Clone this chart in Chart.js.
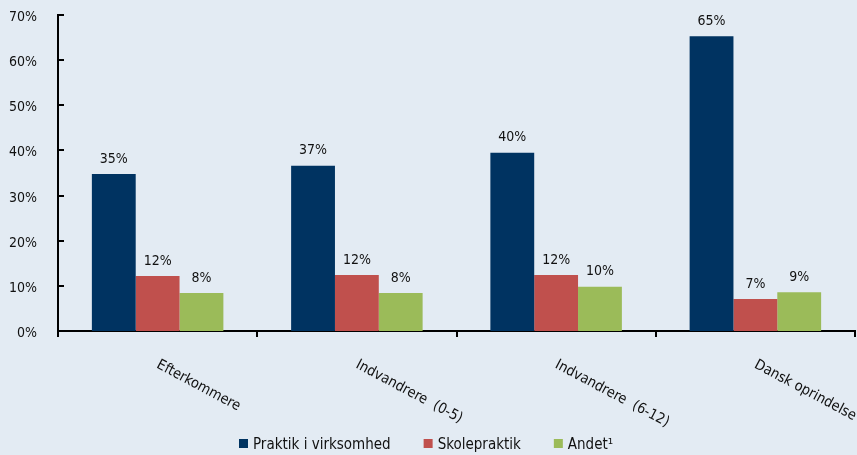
<!DOCTYPE html>
<html lang="da">
<head>
  <meta charset="UTF-8">
  <title>Praktik fordelt på herkomst</title>
  <style>
    body {
      margin: 0;
      background-color: #e3ebf3;
    }
    #wrap {
      width: 857px;
      height: 455px;
    }
  </style>
  <script src="https://cdn.jsdelivr.net/npm/chart.js"></script>
</head>
<body>
<div id="wrap">
  <canvas id="praktikChart" width="857" height="455"></canvas>
</div>

<script>
  // Data
  const kategorier = ['Efterkommere', 'Indvandrere  (0-5)', 'Indvandrere  (6-12)', 'Dansk oprindelse'];
  const praktikVirksomhed = [34.8, 36.6, 39.5, 65.3];
  const skolepraktik = [12.2, 12.4, 12.4, 7.1];
  const andet = [8.4, 8.4, 9.8, 8.6];
  const yTicks = [0, 10, 20, 30, 40, 50, 60, 70];

  const FONT = "'DejaVu Sans Condensed', 'DejaVu Sans', sans-serif";

  // Værdier over søjlerne, skrå kategoritekster, y-akse tekster/ticks og forklaring
  const tegnTekster = {
    id: 'tegnTekster',
    afterDatasetsDraw(chart) {
      const ctx = chart.ctx;
      ctx.save();
      ctx.fillStyle = '#111';
      ctx.font = '14px ' + FONT;
      ctx.textAlign = 'center';
      ctx.textBaseline = 'bottom';
      chart.data.datasets.forEach((ds, i) => {
        chart.getDatasetMeta(i).data.forEach((bar, j) => {
          ctx.fillText(Math.round(ds.data[j]) + '%', bar.x, bar.y - 8);
        });
      });

      const x = chart.scales.x;
      const y = chart.scales.y;

      // y-aksens tekster og indvendige ticks
      ctx.textAlign = 'right';
      ctx.textBaseline = 'middle';
      ctx.strokeStyle = '#000';
      ctx.lineWidth = 2;
      yTicks.forEach(v => {
        const py = Math.round(y.getPixelForValue(v));
        ctx.fillText(v + '%', x.left - 21, py + 2);
        ctx.beginPath();
        ctx.moveTo(x.left, py);
        ctx.lineTo(x.left + 6, py);
        ctx.stroke();
      });

      ctx.font = '14.5px ' + FONT;
      kategorier.forEach((k, i) => {
        const px = x.getPixelForValue(i);
        ctx.save();
        ctx.translate(px, y.bottom + 33);
        ctx.rotate(28 * Math.PI / 180);
        ctx.textAlign = 'left';
        ctx.textBaseline = 'middle';
        ctx.fillText(k, 0, 0);
        ctx.restore();
      });

      // forklaring
      ctx.font = '15px ' + FONT;
      const ds = chart.data.datasets;
      const boks = 9, afstand = 5, mellemrum = 33;
      const bredder = ds.map(d => boks + afstand + ctx.measureText(d.label).width);
      let lx = 239;
      const ly = 445;
      ctx.textAlign = 'left';
      ctx.textBaseline = 'middle';
      ds.forEach((d, i) => {
        ctx.fillStyle = d.backgroundColor;
        ctx.fillRect(lx, ly - 6, boks, boks);
        ctx.fillStyle = '#111';
        ctx.fillText(d.label, lx + boks + afstand, ly);
        lx += bredder[i] + mellemrum;
      });
      ctx.restore();
    }
  };

  const config = {
    type: 'bar',
    data: {
      labels: kategorier,
      datasets: [
        { label: 'Praktik i virksomhed', data: praktikVirksomhed, backgroundColor: '#003361' },
        { label: 'Skolepraktik', data: skolepraktik, backgroundColor: '#c0504d' },
        { label: 'Andet\u00b9', data: andet, backgroundColor: '#9bbb59' }
      ]
    },
    options: {
      responsive: false,
      animation: false,
      layout: { autoPadding: false, padding: { top: 15, right: 2, bottom: 0, left: 0 } },
      datasets: {
        bar: { categoryPercentage: 0.66, barPercentage: 1.0 }
      },
      scales: {
        x: {
          grid: { display: true, drawOnChartArea: false, offset: true, color: '#000', lineWidth: 2, tickLength: 6 },
          border: { display: true, color: '#000', width: 2 },
          ticks: { display: true, callback: () => '', font: { size: 1 } },
          afterFit(scale) { scale.height = 124; }
        },
        y: {
          min: 0,
          max: 70,
          afterBuildTicks(scale) { scale.ticks = yTicks.map(v => ({ value: v })); },
          grid: { display: false, drawTicks: false, tickLength: 0 },
          border: { display: true, color: '#000', width: 2 },
          ticks: { display: false, padding: 0 },
          afterFit(scale) { scale.width = 58; }
        }
      },
      plugins: {
        legend: { display: false },
        tooltip: { enabled: false }
      }
    },
    plugins: [tegnTekster]
  };

  new Chart(document.getElementById('praktikChart').getContext('2d'), config);
</script>
</body>
</html>
